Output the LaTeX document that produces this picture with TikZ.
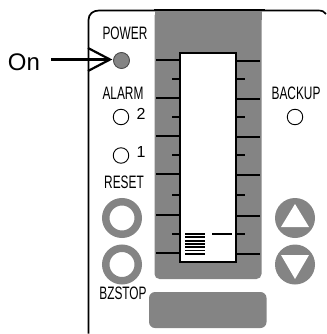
\documentclass[tikz,border=0pt]{standalone}
\usepackage{fontspec}
\setmainfont{Liberation Sans}
\newfontfamily\narrowfont[FakeStretch=0.66]{Liberation Sans}
\definecolor{panelgray}{HTML}{848484}
\tikzset{
  lbl/.style={font=\narrowfont\fontsize{18}{18}\selectfont,inner sep=0pt,text=black},
  digit/.style={font=\fontsize{16}{16}\selectfont,inner sep=0pt},
  ledoff/.style={circle,draw=black,line width=0.9pt,fill=white,minimum size=15.5pt,inner sep=0pt},
  ledon/.style={circle,draw=black!70,line width=0.9pt,fill=panelgray,minimum size=16pt,inner sep=0pt},
  ring/.style={circle,draw=panelgray,line width=7.5pt,fill=white,minimum size=32.5pt,inner sep=0pt},
  disc/.style={circle,fill=panelgray,minimum size=40pt,inner sep=0pt},
  tick/.style={line width=1.8pt,draw=black},
  barline/.style={line width=1.8pt,draw=black}
}
\begin{document}
\begin{tikzpicture}[x=1pt,y=-1pt]
\useasboundingbox (0,0) rectangle (326,334);
% housing
\draw[line width=1.7pt] (88.5,333.5) -- (88.5,20) .. controls (88.5,14) and (93,10.5) .. (99,10.5) -- (318,10.5) .. controls (322,10.5) and (324.5,11.5) .. (326,14);
% panels
\fill[panelgray,rounded corners=5pt] (154.5,10.8) -- (261.5,10.8) -- (261.5,279) -- (154.5,279) -- cycle;
\fill[panelgray] (154.5,10.8) rectangle (261.5,20);
\draw[line width=2pt] (154,10.5) -- (265,10.5);
\fill[panelgray,rounded corners=6pt] (149,292) rectangle (266.5,328);
% ticks
\foreach \y in {60,98,136,174,215,253} {
  \draw[tick] (156,\y) -- (180,\y);
  \draw[tick] (236,\y+0.7) -- (260,\y+0.7);
}
\foreach \y in {79,117,155,195,234} {
  \draw[tick] (172,\y) -- (180,\y);
  \draw[tick] (236,\y) -- (245,\y);
}
% display
\node[draw=black,line width=2pt,fill=white,inner sep=0pt,minimum width=56pt,minimum height=209pt] (display) at (208,157.5) {};
\foreach \y in {234,237.3,240.6,243.9,247.2,250.5,253.8} {
  \draw[barline] (185,\y) -- (205,\y);
}
\draw[line width=2pt] (212,234) -- (232,234);
% LEDs
\node[ledon] (pwr) at (121.5,60.5) {};
\node[ledoff] (a2) at (121,117) {};
\node[ledoff] (a1) at (121,155.5) {};
\node[ledoff] (bk) at (295,117) {};
% buttons
\node[ring] (reset) at (122,218) {};
\node[ring] (bz) at (122,264.5) {};
\node[disc] (up) at (295,218) {};
\node[disc] (down) at (295,264.5) {};
\fill[white] (295,204) -- (309,227) -- (281,227) -- cycle;
\fill[white] (295,279) -- (309,255) -- (281,255) -- cycle;
% labels
\node[lbl] (l1) at (125,33) {POWER};
\node[lbl] (l2) at (123,93) {ALARM};
\node[lbl] (l3) at (296,93) {BACKUP};
\node[lbl] (l4) at (124,182) {RESET};
\node[lbl] (l5) at (123,293) {BZSTOP};
\node[digit] (d2) at (141,114) {2};
\node[digit] (d1) at (141,152) {1};
\node[font=\fontsize{24}{24}\selectfont,inner sep=0pt] (on) at (24,62) {On};
% arrow
\coordinate (tip) at (110,59.5);
\draw[line width=2.2pt] (51,59.5) -- (tip);
\draw[line width=2.2pt,miter limit=4] (88,48) -- (tip) -- (88,71);
\end{tikzpicture}
\end{document}
